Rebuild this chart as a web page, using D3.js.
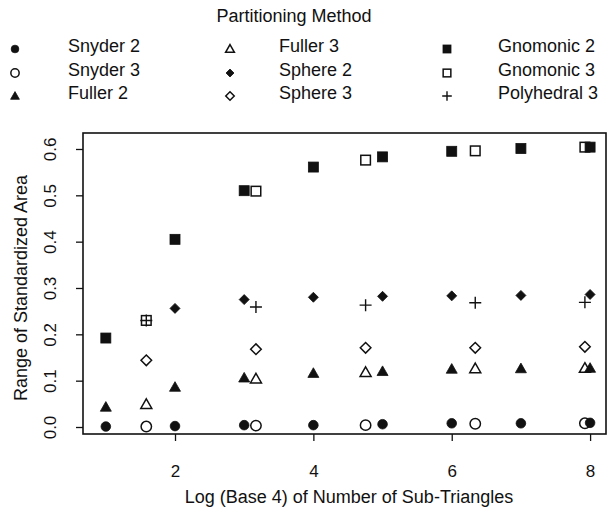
<!DOCTYPE html>
<html><head><meta charset="utf-8">
<script src="https://cdn.jsdelivr.net/npm/d3@7"></script>
<style>body{margin:0;background:#fff}text{font-family:"Liberation Sans",Arial,sans-serif;fill:#111}</style>
</head><body>
<svg id="c" width="611" height="514"></svg>
<script>
const level2 = [1,2,3,4,5,6,7,8];
const level3 = [1.585,3.17,4.755,6.34,7.925];
const snyder2 = [0.001,0.002,0.004,0.004,0.006,0.008,0.008,0.009];
const snyder3 = [0.001,0.003,0.004,0.007,0.008];
const fuller2 = [0.043,0.086,0.106,0.116,0.120,0.125,0.126,0.127];
const fuller3 = [0.049,0.104,0.118,0.126,0.127];
const sphere2x = [2,3,4,5,6,7,8];
const sphere2 = [0.256,0.275,0.280,0.282,0.283,0.284,0.286];
const sphere3 = [0.144,0.168,0.171,0.171,0.173];
const gnomonic2 = [0.192,0.405,0.510,0.561,0.583,0.595,0.601,0.604];
const gnomonic3 = [0.230,0.509,0.576,0.596,0.604];
const polyhedral3 = [0.230,0.259,0.263,0.268,0.269];
const xTicks = [2,4,6,8];
const yTicks = [0,0.1,0.2,0.3,0.4,0.5,0.6];

const series = [
  {name:"Snyder 2", xs:level2, ys:snyder2, sym:"circle", fill:true},
  {name:"Snyder 3", xs:level3, ys:snyder3, sym:"circle", fill:false},
  {name:"Fuller 2", xs:level2, ys:fuller2, sym:"triangle", fill:true},
  {name:"Fuller 3", xs:level3, ys:fuller3, sym:"triangle", fill:false},
  {name:"Sphere 2", xs:sphere2x, ys:sphere2, sym:"diamond", fill:true},
  {name:"Sphere 3", xs:level3, ys:sphere3, sym:"diamond", fill:false},
  {name:"Gnomonic 2", xs:level2, ys:gnomonic2, sym:"square", fill:true},
  {name:"Gnomonic 3", xs:level3, ys:gnomonic3, sym:"square", fill:false},
  {name:"Polyhedral 3", xs:level3, ys:polyhedral3, sym:"plus", fill:false}
];

const svg = d3.select("#c");
const L=83, R=606, T=133, B=434;
const x = d3.scaleLinear().domain([0.67,8.23]).range([L,R]);
const y = d3.scaleLinear().domain([-0.0151,0.6345]).range([B,T]);
const FONT = "'Liberation Sans',Arial,sans-serif";

function drawSym(g, s, cx, cy, big){
  const k = big||1;
  const st = s.fill ? {fill:"#111",stroke:"#111",sw:0.8} : {fill:"none",stroke:"#111",sw:1.5};
  let el;
  if(s.sym==="circle"){
    el = g.append("circle").attr("cx",cx).attr("cy",cy).attr("r",(s.fill?4.8:5.2)*k);
  } else if(s.sym==="triangle"){
    const h=5.5*k;
    el = g.append("path").attr("d",`M${cx},${cy-h}L${cx+h},${cy+h*0.75}L${cx-h},${cy+h*0.75}Z`);
  } else if(s.sym==="diamond"){
    const h=(s.fill?5:5.3)*k;
    el = g.append("path").attr("d",`M${cx},${cy-h}L${cx+h},${cy}L${cx},${cy+h}L${cx-h},${cy}Z`);
  } else if(s.sym==="square"){
    const h=(s.fill?5:4.8)*k;
    el = g.append("rect").attr("x",cx-h).attr("y",cy-h).attr("width",2*h).attr("height",2*h);
  } else {
    const h=6*k;
    el = g.append("path").attr("d",`M${cx-h},${cy}H${cx+h}M${cx},${cy-h}V${cy+h}`);
  }
  el.attr("fill",st.fill).attr("stroke",st.stroke).attr("stroke-width",s.sym==="plus"?1.4:st.sw);
}

// frame
svg.append("rect").attr("x",L).attr("y",T).attr("width",R-L).attr("height",B-T)
  .attr("fill","none").attr("stroke","#111").attr("stroke-width",1.6);

// axes
const xa = svg.append("g").attr("transform",`translate(0,${B})`)
  .call(d3.axisBottom(x).tickValues(xTicks).tickSize(7).tickPadding(24).tickFormat(d3.format("d")));
const ya = svg.append("g").attr("transform",`translate(${L},0)`)
  .call(d3.axisLeft(y).tickValues(yTicks).tickSize(7).tickFormat(d3.format(".1f")));
[xa,ya].forEach(a=>{a.select(".domain").remove();a.selectAll("line").attr("stroke","#111").attr("stroke-width",1.3);
  a.selectAll("text").style("font-size","17px").attr("fill","#111").style("font-family",FONT);});
ya.selectAll("text").attr("text-anchor","middle").attr("dy",null).attr("x",null).attr("y",null)
  .attr("transform","translate(-31,0) rotate(-90)").attr("dominant-baseline","middle");

// axis titles
svg.append("text").attr("x",349).attr("y",503).attr("text-anchor","middle").style("font-size","18px")
  .text("Log (Base 4) of Number of Sub-Triangles");
svg.append("text").attr("transform","translate(22,288) rotate(-90)").attr("text-anchor","middle")
  .attr("dominant-baseline","middle").style("font-size","18px")
  .text("Range of Standardized Area");

// points
const pg = svg.append("g");
series.forEach(s=>{
  s.xs.forEach((xv,i)=>drawSym(pg,s,x(xv),y(s.ys[i])));
});

// legend
svg.append("text").attr("x",294).attr("y",17).attr("text-anchor","middle").attr("dominant-baseline","middle")
  .style("font-size","18px").text("Partitioning Method");
const colSym=[15,230,447], colTxt=[68,279,498], rowY=[47,71,94];
series.forEach((s,i)=>{
  const c=Math.floor(i/3), r=i%3;
  drawSym(svg,s,colSym[c],rowY[r]+2,0.8);
  svg.append("text").attr("x",colTxt[c]).attr("y",rowY[r]).attr("dominant-baseline","middle")
    .style("font-size","18px").text(s.name);
});
</script>
</body></html>
